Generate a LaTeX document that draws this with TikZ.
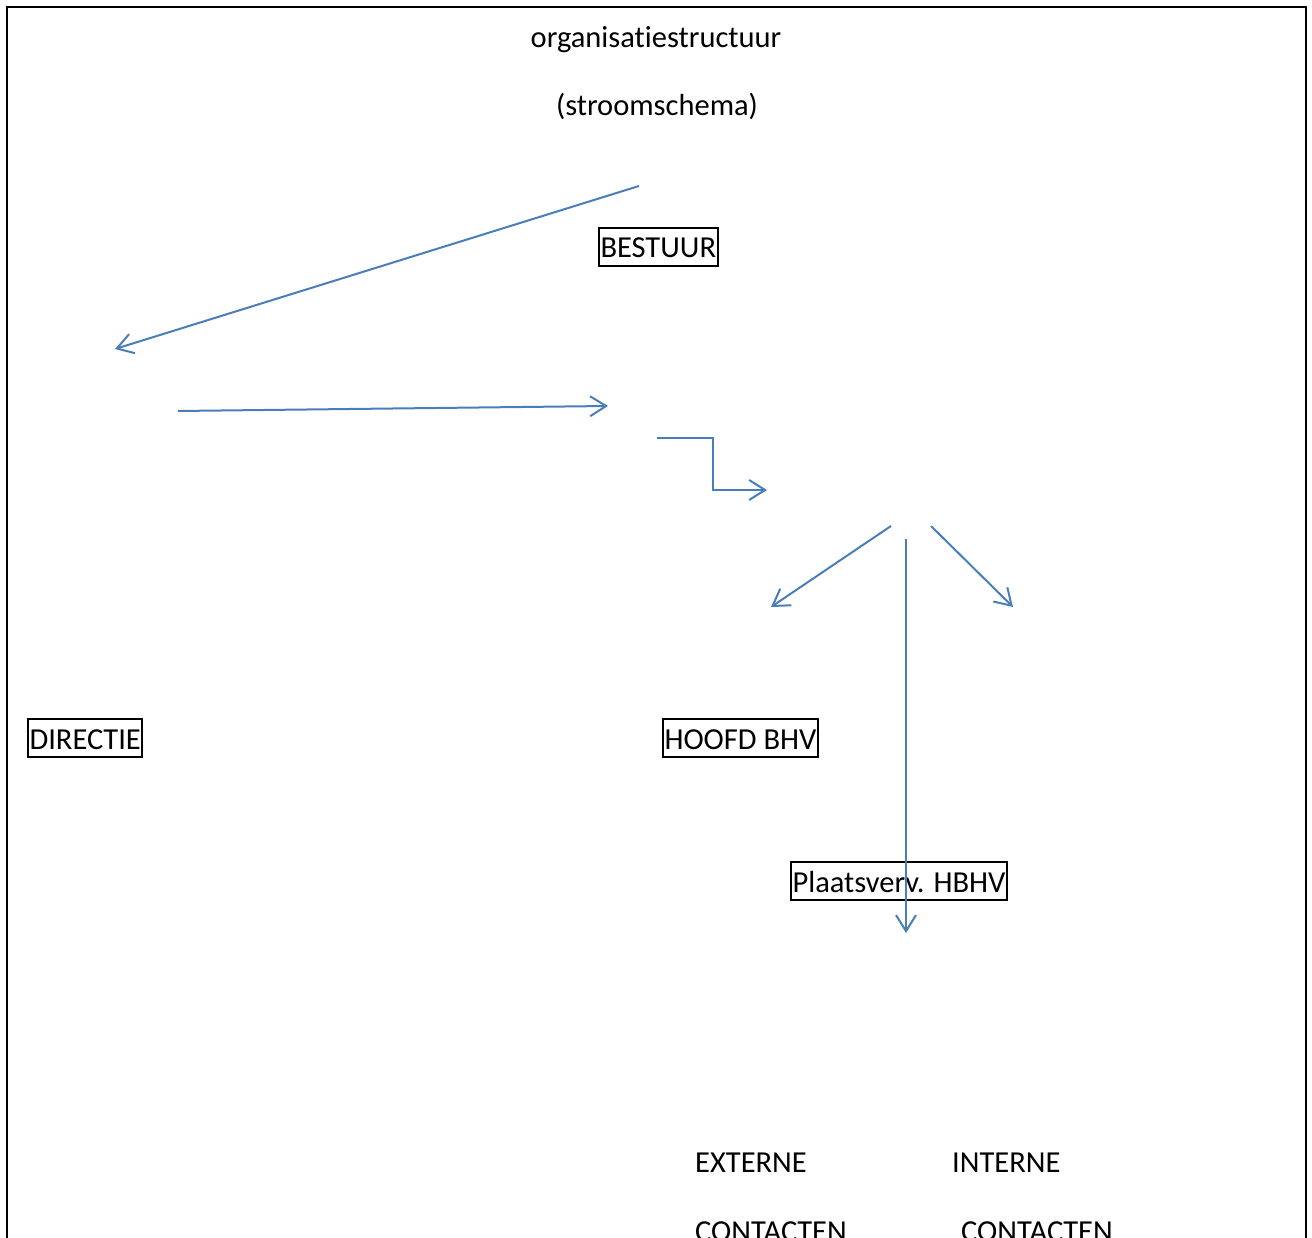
\documentclass[tikz,border=0pt]{standalone}
\usepackage{fontspec}
\setmainfont[Ligatures=NoCommon]{Carlito}
\usetikzlibrary{arrows.meta}
\definecolor{flowblue}{HTML}{4A7EBB}

\begin{document}
\begin{tikzpicture}
		[x=1pt,y=-1pt,
		every node/.style={font=\fontsize{30.5}{36}\selectfont,inner sep=0pt,anchor=base},
		unit/.style={draw,line width=2pt,anchor=base west,inner xsep=1.5pt,inner ysep=1pt,
			text height=29pt,text depth=7pt},
		flow/.style={->,draw=flowblue,line width=2pt,
			>={Straight Barb[length=16pt,width=20pt]}}]
		\useasboundingbox (0,0) rectangle (1312,1238);
		\clip (0,0) rectangle (1312,1238);
		\draw[line width=2.5pt] (7,1260) |- (1306,7) -- (1306,1260);
		%% titels
		\node (titel) at (656,48) {organisatiestructuur};
		\node (sub) at (657,116) {(stroomschema)};
		%% eenheden
		\node[unit] (bestuur) at (598,258) {BESTUUR};
		\node[unit] (directie) at (27,749) {DIRECTIE};
		\node[unit] (hoofd) at (662,749) {HOOFD BHV};
		\node[unit] (plv) at (790,892) {Plaatsverv. HBHV};
		\node[anchor=base west] (ext) at (695,1172) {EXTERNE};
		\node[anchor=base west] (extc) at (695,1241) {CONTACTEN};
		\node[anchor=base west] (int) at (952,1172) {INTERNE};
		\node[anchor=base west] (intc) at (961,1241) {CONTACTEN};
		%% pijlen
		\coordinate (p1s) at (639,186);
		\coordinate (p1e) at (115,349);
		\coordinate (p2s) at (178,411);
		\coordinate (p2e) at (608,406);
		\coordinate (p4s) at (891,526);
		\coordinate (p4e) at (771,607);
		\coordinate (p5s) at (931,526);
		\coordinate (p5e) at (1013,607);
		\coordinate (p6s) at (906,539);
		\coordinate (p6e) at (906,933);
		\path
		\foreach \startNode/\endNode in {p1s/p1e,p2s/p2e,p4s/p4e,p5s/p5e,p6s/p6e}
		{
			(\startNode) edge[flow] (\endNode)
		};
		\coordinate (p3s) at (657,438);
		\coordinate (p3k) at (713,438);
		\coordinate (p3e) at (767,490);
		\draw[flow] (p3s) -- (p3k) |- (p3e);
\end{tikzpicture}
\end{document}
